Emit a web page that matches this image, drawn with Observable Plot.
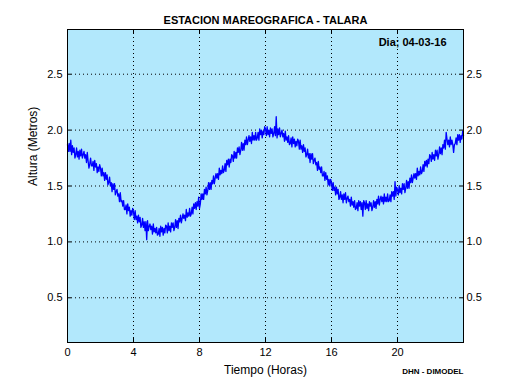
<!DOCTYPE html>
<html><head><meta charset="utf-8">
<script src="https://cdn.jsdelivr.net/npm/d3@7"></script>
<script src="https://cdn.jsdelivr.net/npm/@observablehq/plot@0.6"></script>
<style>body{margin:0;background:#fff} svg{display:block}</style>
</head><body><div id="chart"></div>
<script>
const title = "ESTACION MAREOGRAFICA - TALARA";
const dayLabel = "Dia; 04-03-16";
const xLabel = "Tiempo (Horas)";
const yLabel = "Altura (Metros)";
const credit = "DHN - DIMODEL";
const xTicks = [0, 4, 8, 12, 16, 20];
const yTicks = [0.5, 1.0, 1.5, 2.0, 2.5];
// sea level (m), one reading every 0.05 h from 0 to 24 h (one row = half an hour)
const level = [
  1.87,1.81,1.88,1.81,1.91,1.78,1.86,1.80,1.84,1.75,
  1.78,1.84,1.76,1.81,1.74,1.82,1.77,1.83,1.75,1.78,
  1.81,1.75,1.78,1.71,1.80,1.72,1.66,1.70,1.75,1.68,
  1.68,1.72,1.64,1.73,1.67,1.70,1.62,1.67,1.63,1.69,
  1.66,1.59,1.66,1.59,1.62,1.55,1.62,1.56,1.60,1.51,
  1.53,1.58,1.50,1.53,1.45,1.52,1.47,1.52,1.42,1.45,
  1.47,1.41,1.43,1.36,1.44,1.36,1.37,1.32,1.37,1.29,
  1.29,1.33,1.25,1.34,1.28,1.31,1.23,1.28,1.24,1.30,
  1.27,1.20,1.28,1.20,1.23,1.17,1.24,1.18,1.22,1.13,
  1.15,1.21,1.13,1.18,1.10,1.18,1.02,1.19,1.10,1.14,
  1.16,1.11,1.14,1.07,1.16,1.09,1.12,1.08,1.13,1.06,
  1.07,1.12,1.05,1.14,1.09,1.13,1.06,1.12,1.08,1.15,
  1.14,1.08,1.17,1.10,1.14,1.09,1.17,1.13,1.17,1.10,
  1.13,1.20,1.13,1.19,1.12,1.21,1.18,1.24,1.17,1.21,
  1.25,1.21,1.24,1.19,1.29,1.22,1.26,1.23,1.30,1.23,
  1.25,1.31,1.25,1.34,1.30,1.35,1.29,1.36,1.32,1.40,
  1.30,1.34,1.43,1.38,1.43,1.38,1.47,1.43,1.49,1.42,
  1.46,1.53,1.47,1.53,1.47,1.55,1.52,1.59,1.52,1.57,
  1.61,1.57,1.61,1.56,1.66,1.60,1.64,1.61,1.68,1.62,
  1.64,1.70,1.63,1.73,1.69,1.74,1.67,1.74,1.71,1.78,
  1.77,1.72,1.81,1.75,1.80,1.75,1.84,1.80,1.85,1.78,
  1.82,1.89,1.82,1.88,1.82,1.91,1.87,1.94,1.87,1.91,
  1.95,1.90,1.94,1.88,1.98,1.91,1.95,1.91,1.98,1.91,
  1.93,1.98,1.91,2.01,1.96,2.00,1.93,1.99,1.96,2.03,
  2.01,1.95,2.03,1.96,2.00,1.94,2.02,1.97,2.01,1.94,
  1.97,2.03,1.95,2.12,1.93,2.01,1.96,2.02,1.94,1.97,
  2.00,1.94,1.97,1.90,1.99,1.91,1.94,1.89,1.95,1.87,
  1.88,1.93,1.85,1.94,1.88,1.92,1.85,1.90,1.86,1.92,
  1.90,1.83,1.91,1.83,1.86,1.80,1.87,1.81,1.84,1.76,
  1.78,1.83,1.75,1.79,1.71,1.79,1.74,1.79,1.70,1.73,
  1.75,1.69,1.71,1.64,1.72,1.65,1.67,1.62,1.67,1.59,
  1.59,1.63,1.55,1.62,1.56,1.59,1.51,1.56,1.50,1.56,
  1.53,1.46,1.53,1.46,1.49,1.42,1.49,1.43,1.47,1.38,
  1.40,1.45,1.38,1.42,1.35,1.43,1.38,1.44,1.35,1.39,
  1.41,1.36,1.38,1.32,1.40,1.33,1.36,1.31,1.37,1.29,
  1.30,1.35,1.28,1.37,1.32,1.36,1.29,1.35,1.23,1.37,
  1.35,1.29,1.37,1.30,1.34,1.28,1.36,1.32,1.35,1.28,
  1.31,1.37,1.31,1.36,1.30,1.38,1.34,1.41,1.33,1.38,
  1.41,1.36,1.40,1.34,1.43,1.36,1.40,1.36,1.43,1.36,
  1.37,1.42,1.36,1.45,1.41,1.45,1.38,1.54,1.41,1.49,
  1.47,1.42,1.50,1.44,1.48,1.43,1.52,1.47,1.52,1.44,
  1.48,1.55,1.48,1.54,1.48,1.57,1.53,1.60,1.53,1.57,
  1.61,1.57,1.61,1.56,1.66,1.59,1.63,1.60,1.67,1.61,
  1.63,1.69,1.63,1.72,1.68,1.73,1.67,1.74,1.70,1.78,
  1.77,1.72,1.80,1.74,1.78,1.73,1.82,1.77,1.82,1.74,
  1.78,1.85,1.79,1.84,1.78,1.87,1.84,1.91,1.83,1.98,
  1.92,1.87,1.91,1.85,1.94,1.87,1.91,1.87,1.80,1.87,
  1.88,1.93,1.87,1.96,1.91,1.96,1.89,1.95,1.92,1.99,
  1.95
];
const step = 0.05;
const data = level.map((h, i) => ({t: i * step, h}));

const fontFamily = "'Liberation Sans', Arial, Helvetica, sans-serif";
const bg = "#b2e8fc";
const fmt = d3.format(".1f");

const plot = Plot.plot({
  width: 512, height: 384,
  marginLeft: 67, marginRight: 49, marginTop: 29, marginBottom: 42,
  style: {fontFamily, fontSize: "11px", background: "white", color: "black"},
  x: {domain: [0, 24]},
  y: {domain: [0.1, 2.9]},
  marks: [
    Plot.frame({fill: bg, stroke: null}),
    Plot.gridX(xTicks, {stroke: "black", strokeOpacity: 1, strokeDasharray: "1,3"}),
    Plot.gridY(yTicks, {stroke: "black", strokeOpacity: 1, strokeDasharray: "1,3"}),
    Plot.line(data, {x: "t", y: "h", stroke: "#0000ff", strokeWidth: 1.3}),
    // inward ticks
    Plot.axisX(xTicks, {anchor: "bottom", tickSize: 4, dy: -4, tickFormat: () => "", label: null}),
    Plot.axisX(xTicks, {anchor: "top", tickSize: 4, dy: 4, tickFormat: () => "", label: null}),
    Plot.axisY(yTicks, {anchor: "left", tickSize: 4, dx: 4, tickFormat: () => "", label: null}),
    Plot.axisY(yTicks, {anchor: "right", tickSize: 4, dx: -4, tickFormat: () => "", label: null}),
    // tick labels
    Plot.axisX(xTicks, {anchor: "bottom", tickSize: 0, tickPadding: 6, label: null, fontSize: 11}),
    Plot.axisY(yTicks, {anchor: "left", tickSize: 0, tickPadding: 5, tickFormat: fmt, label: null, fontSize: 11}),
    Plot.axisY(yTicks, {anchor: "right", tickSize: 0, tickPadding: 3, tickFormat: fmt, label: null, fontSize: 11}),
    Plot.frame({stroke: "black", strokeWidth: 1}),
    // texts
    Plot.text([title], {frameAnchor: "top", dy: -13, fontWeight: "bold", fontSize: 11}),
    Plot.text([dayLabel], {frameAnchor: "top-right", dx: -17, dy: 9, fontWeight: "bold", fontSize: 11}),
    Plot.text([xLabel], {frameAnchor: "bottom", dy: 31, fontSize: 12}),
    Plot.text([yLabel], {frameAnchor: "left", dx: -34, rotate: -90, fontSize: 12}),
    Plot.text([credit], {frameAnchor: "bottom-right", dy: 31, fontWeight: "bold", fontSize: 8})
  ]
});
document.getElementById("chart").appendChild(plot);
</script>
</body></html>
